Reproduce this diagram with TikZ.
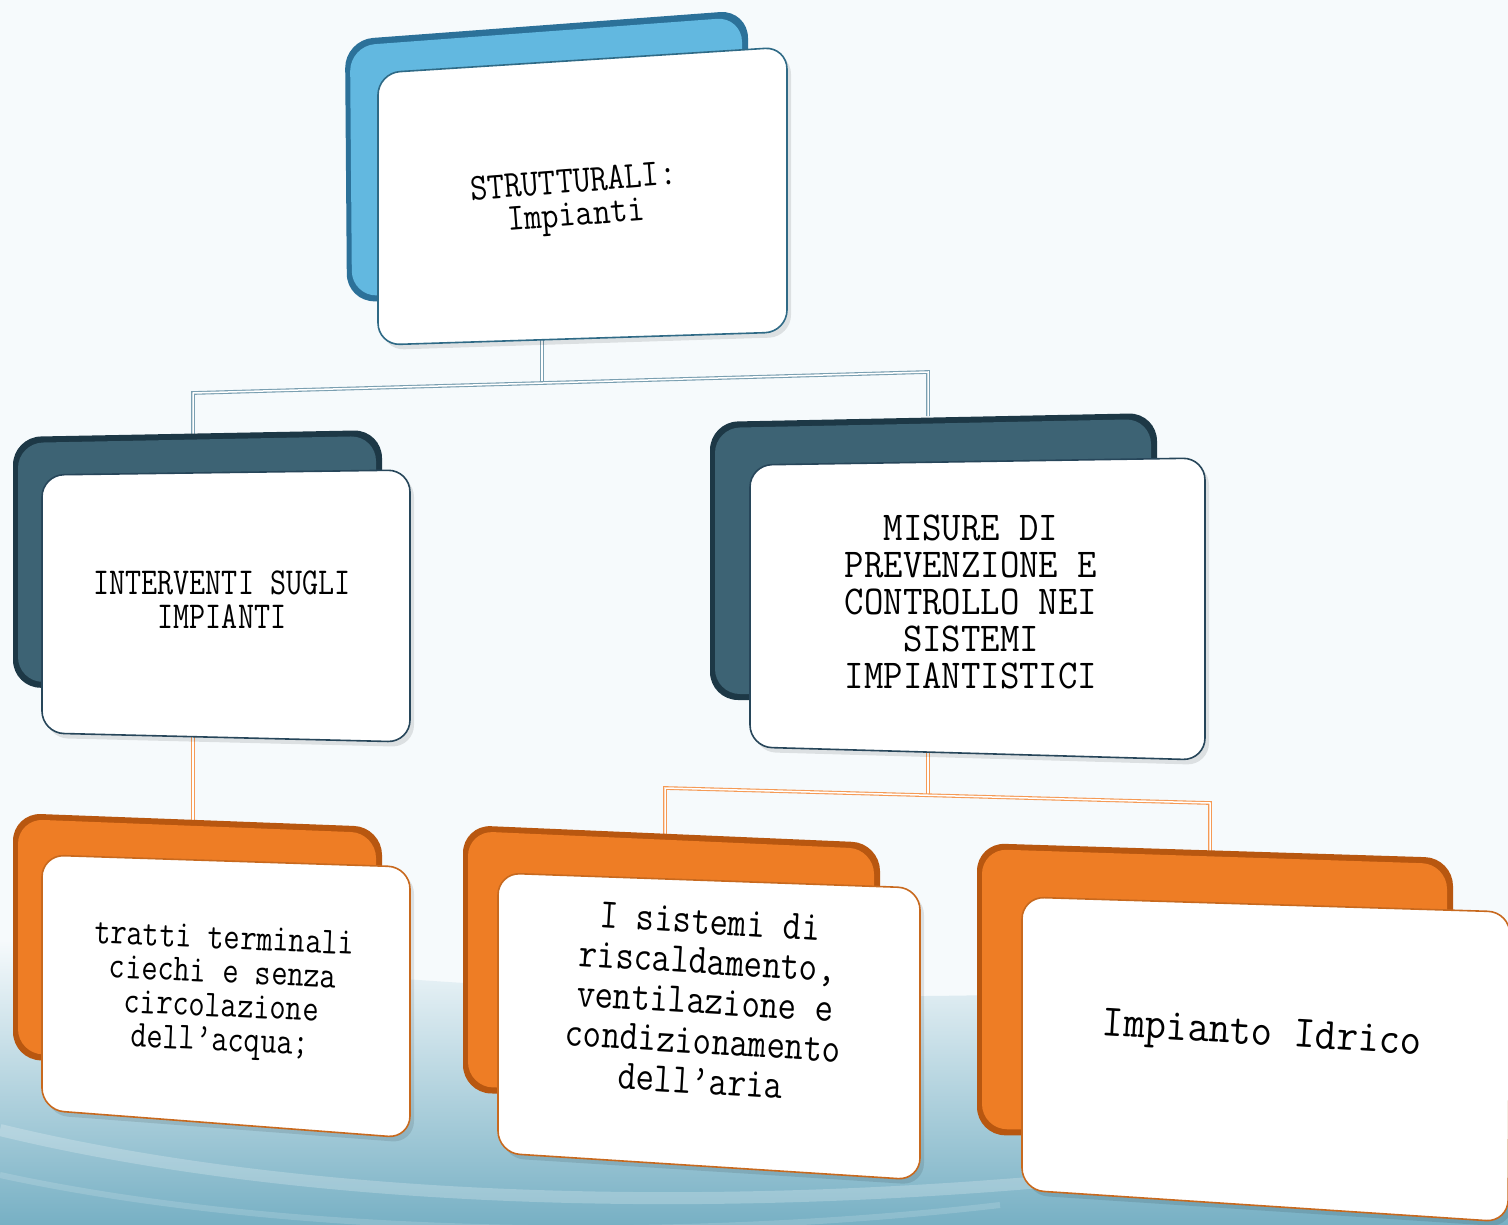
\documentclass[tikz,border=0pt]{standalone}
\usepackage{graphicx}
\definecolor{skytop}{HTML}{F6FAFC}
\definecolor{skylow}{HTML}{77B0C4}
\definecolor{skymid}{HTML}{C9E2EB}
\definecolor{rootedge}{HTML}{2C7199}
\definecolor{rootface}{HTML}{62B8E0}
\definecolor{rootline}{HTML}{2F6A86}
\definecolor{midedge}{HTML}{1D3846}
\definecolor{midface}{HTML}{3D6374}
\definecolor{midline}{HTML}{27465A}
\definecolor{leafedge}{HTML}{B85710}
\definecolor{leafface}{HTML}{EE7D25}
\definecolor{leafline}{HTML}{C8691E}
\definecolor{linkblue}{HTML}{7A9FB1}
\definecolor{linkorange}{HTML}{F59A55}
\newcommand\cardlines[2]{\scalebox{#1}[1]{\begin{tabular}{@{}c@{}}#2\end{tabular}}}
\begin{document}
\begin{tikzpicture}[
        x=1pt, y=-1pt,
        cardtext/.style={align=center, inner sep=0pt, text=black},
        bluelink/.style={draw=linkblue, line width=1.1pt, double=white, double distance=1.5pt},
        orangelink/.style={draw=linkorange, line width=1.1pt, double=white, double distance=1.5pt},
        frontcard/.style={fill=white, line width=1.6pt, rounded corners=22pt},
        cardshadow/.style={fill=black, opacity=0.10, rounded corners=22pt}
    ]
    \useasboundingbox (0,0) rectangle (1508,1225);

    % background
    \fill[skytop] (0,0) rectangle (1508,1225);
    \shade[top color=skytop, middle color=skymid, bottom color=skylow]
        (0,940) .. controls (500,1000) and (1000,1020) .. (1508,960)
        -- (1508,1225) -- (0,1225) -- cycle;
    \draw[white, opacity=0.22, line width=12pt]
        (0,1130) .. controls (350,1215) and (900,1230) .. (1508,1120);
    \draw[white, opacity=0.15, line width=6pt]
        (0,1175) .. controls (300,1240) and (700,1240) .. (1000,1205);

    % connectors
    \coordinate (roottail) at (542,340);
    \coordinate (rootknot) at (542,383);
    \coordinate (leftbend) at (193,393);
    \coordinate (rightbend) at (928,372);
    \coordinate (leftdrop) at (193,434);
    \coordinate (rightdrop) at (928,416);
    \draw[bluelink] (roottail) -- (rootknot);
    \draw[bluelink] (leftdrop) -- (leftbend) -- (rightbend) -- (rightdrop);

    \coordinate (checktail) at (193,737);
    \coordinate (checkdrop) at (193,820);
    \draw[orangelink] (checktail) -- (checkdrop);

    \coordinate (misuretail) at (928,752);
    \coordinate (misureknot) at (928,795);
    \coordinate (airbend) at (665,788);
    \coordinate (waterbend) at (1210,803);
    \coordinate (airdrop) at (665,834);
    \coordinate (waterdrop) at (1210,851);
    \draw[orangelink] (misuretail) -- (misureknot);
    \draw[orangelink] (airdrop) -- (airbend) -- (waterbend) -- (waterdrop);

    % root card
    \fill[rootedge, rounded corners=28pt] (345,40) -- (748,10) -- (748,292) -- (347,302) -- cycle;
    \fill[rootface, rounded corners=25pt] (350,46) -- (742,17) -- (742,287) -- (352,296) -- cycle;
    \fill[cardshadow] (382,78) -- (791,52) -- (791,337) -- (382,350) -- cycle;
    \draw[frontcard, draw=rootline] (378,73) -- (787,47) -- (787,332) -- (378,345) -- cycle;

    % second row
    \fill[midedge, rounded corners=28pt] (13,437) -- (382,430) -- (382,685) -- (13,688) -- cycle;
    \fill[midface, rounded corners=25pt] (18,443) -- (376,436) -- (376,680) -- (18,682) -- cycle;
    \fill[cardshadow] (46,480) -- (414,475) -- (414,747) -- (46,738) -- cycle;
    \draw[frontcard, draw=midline] (42,475) -- (410,470) -- (410,742) -- (42,733) -- cycle;

    \fill[midedge, rounded corners=28pt] (710,422) -- (1157,413) -- (1157,700) -- (710,700) -- cycle;
    \fill[midface, rounded corners=25pt] (715,428) -- (1151,419) -- (1151,694) -- (715,694) -- cycle;
    \fill[cardshadow] (754,470) -- (1209,463) -- (1209,765) -- (754,752) -- cycle;
    \draw[frontcard, draw=midline] (750,465) -- (1205,458) -- (1205,760) -- (750,747) -- cycle;

    % third row
    \fill[leafedge, rounded corners=28pt] (13,813) -- (382,827) -- (382,1065) -- (13,1060) -- cycle;
    \fill[leafface, rounded corners=25pt] (18,819) -- (376,833) -- (376,1059) -- (18,1054) -- cycle;
    \fill[cardshadow] (46,860) -- (414,872) -- (414,1143) -- (46,1115) -- cycle;
    \draw[frontcard, draw=leafline] (42,855) -- (410,867) -- (410,1138) -- (42,1110) -- cycle;

    \fill[leafedge, rounded corners=28pt] (463,825) -- (880,843) -- (880,1100) -- (463,1093) -- cycle;
    \fill[leafface, rounded corners=25pt] (468,831) -- (874,849) -- (874,1094) -- (468,1087) -- cycle;
    \fill[cardshadow] (502,878) -- (924,893) -- (924,1185) -- (502,1158) -- cycle;
    \draw[frontcard, draw=leafline] (498,873) -- (920,888) -- (920,1180) -- (498,1153) -- cycle;

    \fill[leafedge, rounded corners=28pt] (977,843) -- (1453,858) -- (1453,1140) -- (977,1135) -- cycle;
    \fill[leafface, rounded corners=25pt] (982,849) -- (1447,864) -- (1447,1134) -- (982,1129) -- cycle;
    \fill[cardshadow] (1026,902) -- (1514,917) -- (1512,1227) -- (1026,1195) -- cycle;
    \draw[frontcard, draw=leafline] (1022,897) -- (1510,912) -- (1508,1222) -- (1022,1190) -- cycle;

    % labels
    \node[cardtext, rotate=4.5, font=\ttfamily\fontsize{38}{33}\selectfont] (root) at (575,202)
        {\cardlines{0.88}{STRUTTURALI:\\Impianti}};
    \node[cardtext, font=\ttfamily\fontsize{38}{34}\selectfont] (interventi) at (222,605)
        {\cardlines{0.82}{INTERVENTI SUGLI\\IMPIANTI}};
    \node[cardtext, font=\ttfamily\fontsize{41}{37}\selectfont] (misure) at (971,607)
        {\cardlines{0.92}{MISURE DI\\PREVENZIONE E\\CONTROLLO NEI\\SISTEMI\\IMPIANTISTICI}};
    \node[cardtext, rotate=-2.5, font=\ttfamily\fontsize{38}{34}\selectfont] (tratti) at (222,993)
        {\cardlines{0.83}{tratti terminali\\ciechi e senza\\circolazione\\dell’acqua;}};
    \node[cardtext, rotate=-3.5, font=\ttfamily\fontsize{42}{40}\selectfont] (sistemi) at (705,1006)
        {\cardlines{0.85}{I sistemi di\\riscaldamento,\\ventilazione e\\condizionamento\\dell’aria}};
    \node[cardtext, rotate=-3.5, font=\ttfamily\fontsize{45}{40}\selectfont] (idrico) at (1262,1037)
        {\cardlines{0.92}{Impianto Idrico}};
\end{tikzpicture}
\end{document}
